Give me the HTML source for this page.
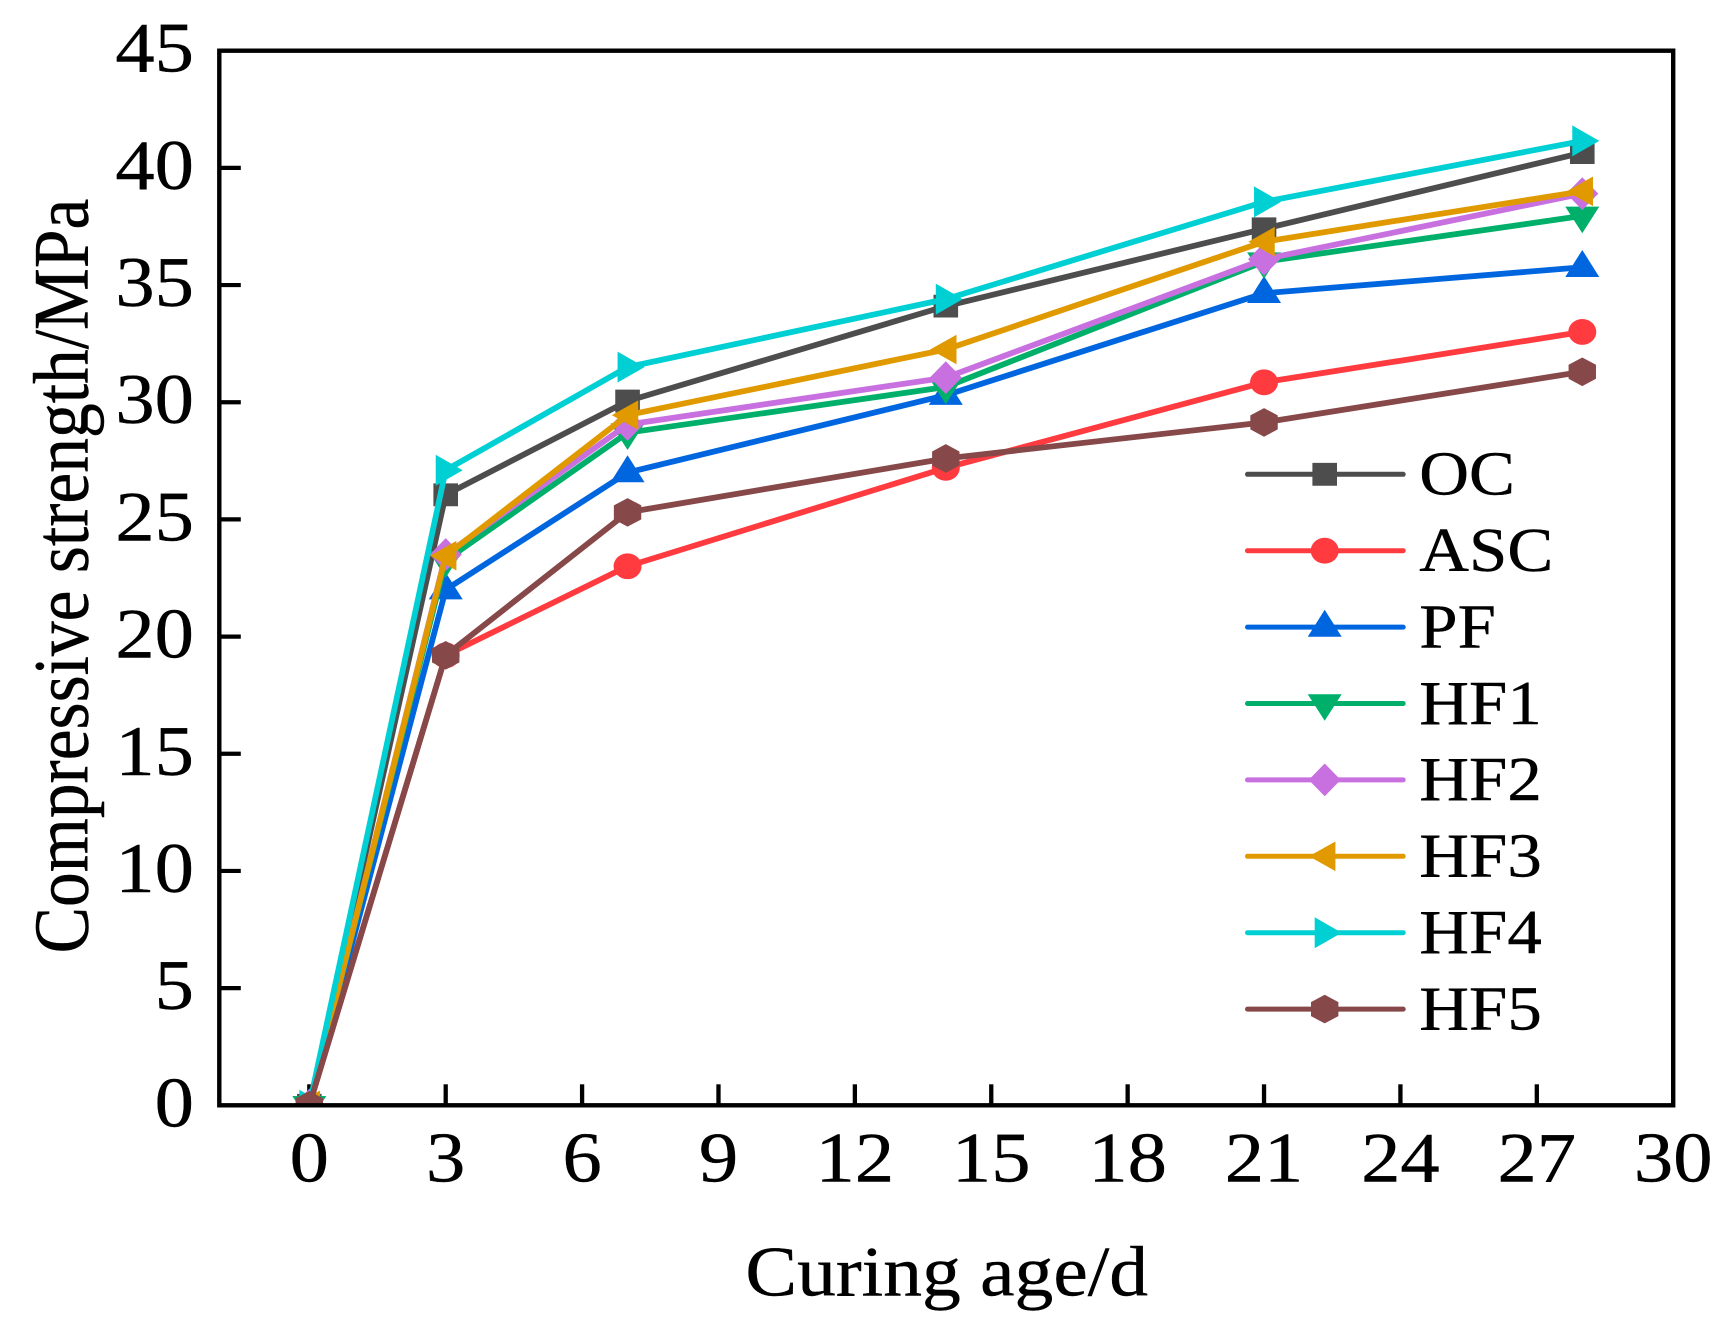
<!DOCTYPE html>
<html lang="en">
<head>
<meta charset="utf-8">
<title>Compressive strength vs curing age</title>
<style>
  html, body { margin: 0; padding: 0; background: #ffffff; }
  body { width: 1734px; height: 1341px; overflow: hidden; }
  svg { display: block; }
  text { font-family: "Liberation Serif", "Times New Roman", serif; fill: #000; stroke: #000; stroke-width: 0.4; }
</style>
</head>
<body>
<svg id="chart" xmlns="http://www.w3.org/2000/svg" width="1734" height="1341" viewBox="0 0 1734 1341">
  <defs>
    <clipPath id="plot-clip"><rect x="219.3" y="50.7" width="1453.9" height="1054.6"></rect></clipPath>
  </defs>
  <rect x="0" y="0" width="1734" height="1341" fill="#ffffff"></rect>
  <g id="tick-layer"></g>
  <g id="series-layer" clip-path="url(#plot-clip)"></g>
  <rect x="219.3" y="50.7" width="1453.9" height="1054.6" fill="none" stroke="#000" stroke-width="4.4"></rect>
  <g id="legend-layer"></g>
  <text font-size="70.7" text-anchor="middle" transform="translate(946.7,1295.7) scale(1.097,1)">Curing age/d</text>
  <text font-size="69.5" text-anchor="middle" transform="translate(87.7,576) scale(1.13,1) rotate(-90)">Compressive strength/MPa</text>
</svg>
<script>
const curingDays = [0, 3, 7, 14, 21, 28];
const seriesNames = ['OC', 'ASC', 'PF', 'HF1', 'HF2', 'HF3', 'HF4', 'HF5'];
const valuesOC = [0, 26.05, 30.05, 34.1, 37.4, 40.65];
const valuesASC = [0, 19.2, 23.0, 27.2, 30.85, 33.0];
const valuesPF = [0, 22.0, 27.0, 30.3, 34.65, 35.76];
const valuesHF1 = [0, 23.25, 28.7, 30.65, 36.0, 37.95];
const valuesHF2 = [0, 23.5, 29.05, 31.05, 36.1, 38.9];
const valuesHF3 = [0, 23.45, 29.45, 32.25, 36.85, 39.0];
const valuesHF4 = [0, 27.1, 31.5, 34.4, 38.55, 41.15];
const valuesHF5 = [0, 19.2, 25.3, 27.6, 29.14, 31.3];
const xTickLabels = [0, 3, 6, 9, 12, 15, 18, 21, 24, 27, 30];
const yTickLabels = [0, 5, 10, 15, 20, 25, 30, 35, 40, 45];

const allValues = [valuesOC, valuesASC, valuesPF, valuesHF1, valuesHF2, valuesHF3, valuesHF4, valuesHF5];
const seriesColors = ['#4d4d4d', '#ff3b40', '#0066e0', '#00b06a', '#c870e0', '#e09a00', '#00d0d4', '#864848'];
const SVG_NS = 'http://www.w3.org/2000/svg';
const plot = { left: 219.3, right: 1673.2, top: 50.7, bottom: 1105.3, xMin: -1.98, xMax: 30, yMin: 0, yMax: 45 };

function xScale(v) {
  return plot.left + (v - plot.xMin) / (plot.xMax - plot.xMin) * (plot.right - plot.left);
}
function yScale(v) {
  return plot.bottom - (v - plot.yMin) / (plot.yMax - plot.yMin) * (plot.bottom - plot.top);
}
function make(tag, attrs) {
  const el = document.createElementNS(SVG_NS, tag);
  Object.keys(attrs).forEach(function (k) { el.setAttribute(k, attrs[k]); });
  return el;
}
function markerShape(index, cx, cy, color) {
  const offsets = [
    [[-12.3, -11.4], [12.3, -11.4], [12.3, 11.4], [-12.3, 11.4]],
    null,
    [[0, -17.3], [17, 9.7], [-17, 9.7]],
    [[-17, -9.3], [17, -9.3], [0, 17.3]],
    [[0, -16.4], [16, 0], [0, 16.4], [-16, 0]],
    [[10.7, -14.8], [10.7, 14.8], [-15.7, 0]],
    [[-10, -15.5], [17, 0], [-10, 15.5]],
    [[0, -14.3], [13.7, -7], [13.7, 7], [0, 14.3], [-13.7, 7], [-13.7, -7]]
  ][index];
  if (offsets === null) {
    return make('ellipse', { cx: cx, cy: cy, rx: 14, ry: 12.9, fill: color });
  }
  const points = offsets.map(function (p) { return (cx + p[0]) + ',' + (cy + p[1]); }).join(' ');
  return make('polygon', { points: points, fill: color });
}

const tickLayer = document.getElementById('tick-layer');
yTickLabels.forEach(function (v) {
  const y = yScale(v);
  if (v !== 0 && v !== 45) {
    const tick = make('line', { x1: plot.left, x2: plot.left + 21.5, y1: y, y2: y, stroke: '#000', 'stroke-width': 4.2 });
    
    
    tickLayer.appendChild(tick);
  }
  const label = make('text', { 'font-size': 71.5, 'text-anchor': 'end', transform: 'translate(194,' + (y + 21) + ') scale(1.1,1)' });
  
  
  label.textContent = String(v);
  tickLayer.appendChild(label);
});
xTickLabels.forEach(function (v) {
  const x = xScale(v);
  if (v !== 30) {
    const tick = make('line', { x1: x, x2: x, y1: plot.bottom, y2: plot.bottom - 21, stroke: '#000', 'stroke-width': 4.3 });
    
    
    tickLayer.appendChild(tick);
  }
  const label = make('text', { 'font-size': 71.5, 'text-anchor': 'middle', transform: 'translate(' + x + ',1181.7) scale(1.1,1)' });
  
  
  label.textContent = String(v);
  tickLayer.appendChild(label);
});

const seriesLayer = document.getElementById('series-layer');
seriesNames.forEach(function (name, s) {
  const group = make('g', {});
  
  
  const pts = curingDays.map(function (d, i) { return xScale(d) + ',' + yScale(allValues[s][i]); }).join(' ');
  const line = make('polyline', { points: pts, fill: 'none', stroke: seriesColors[s], 'stroke-width': 5.8, 'stroke-linejoin': 'round' });
  
  
  group.appendChild(line);
  curingDays.forEach(function (d, i) {
    const marker = markerShape(s, xScale(d), yScale(allValues[s][i]), seriesColors[s]);
    
    
    group.appendChild(marker);
  });
  seriesLayer.appendChild(group);
});

const legendLayer = document.getElementById('legend-layer');
seriesNames.forEach(function (name, s) {
  const y = 474.3 + s * 76.4;
  const entry = make('g', {});
  
  
  entry.appendChild(make('line', { x1: 1247.5, x2: 1403.2, y1: y, y2: y, stroke: seriesColors[s], 'stroke-width': 5, 'stroke-linecap': 'round' }));
  entry.appendChild(markerShape(s, 1324.7, y, seriesColors[s]));
  const label = make('text', { 'font-size': 62.8, transform: 'translate(1419.3,' + (y + 20.3) + ') scale(1.097,1)' });
  
  
  label.textContent = name;
  entry.appendChild(label);
  legendLayer.appendChild(entry);
});
</script>
</body>
</html>
